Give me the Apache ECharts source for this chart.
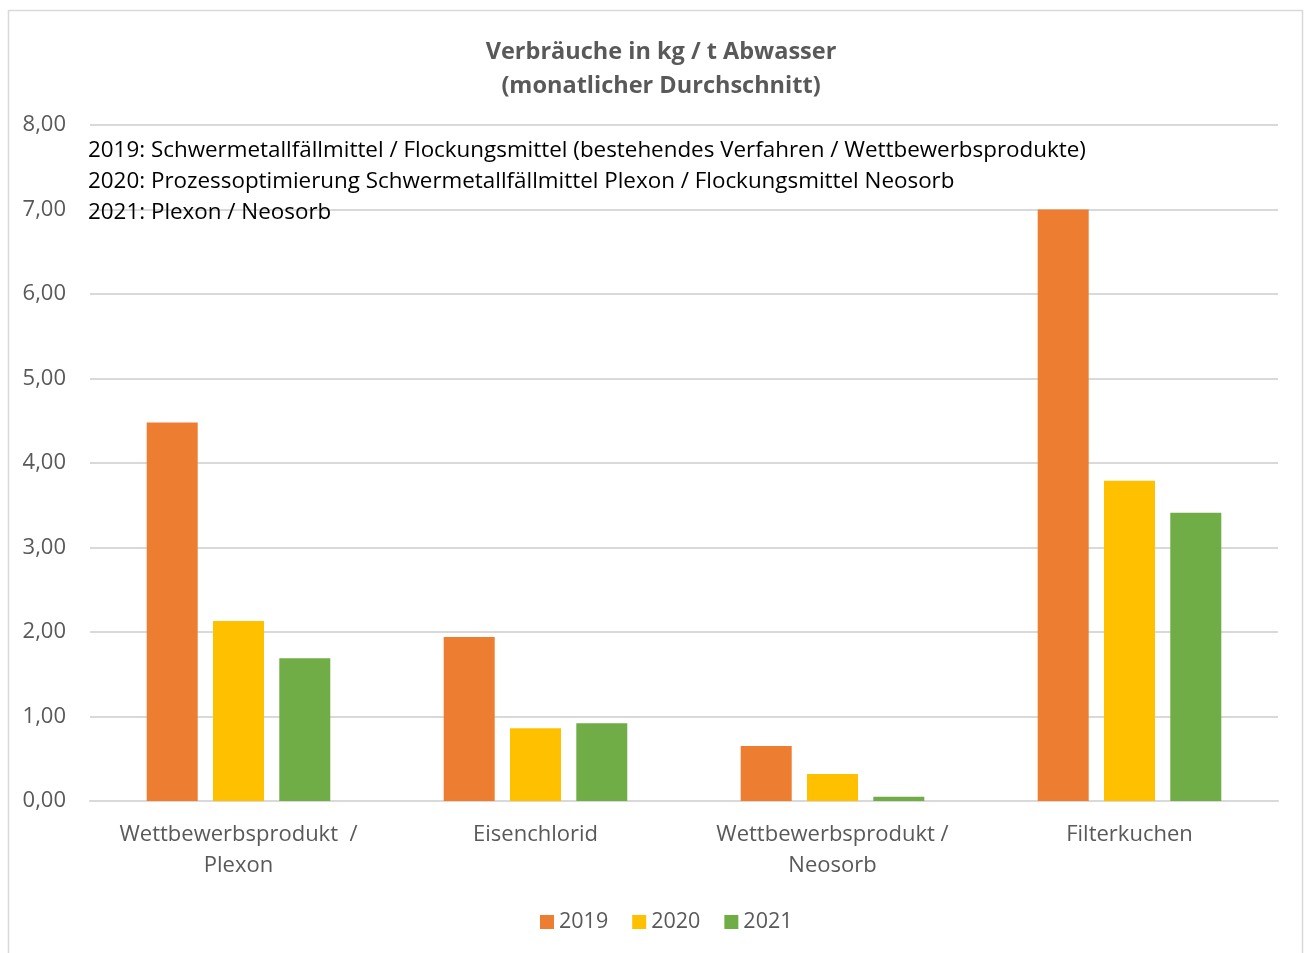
<!DOCTYPE html>
<html>
<head>
<meta charset="utf-8">
<script src="https://cdn.jsdelivr.net/npm/echarts@6/dist/echarts.min.js"></script>
<style>
  html, body { margin: 0; padding: 0; background: #fff; }
  #chart { width: 1304px; height: 953px; }
</style>
</head>
<body>
<div id="chart"></div>
<script>
// Daten
var categories = ['Wettbewerbsprodukt  /\nPlexon', 'Eisenchlorid', 'Wettbewerbsprodukt /\nNeosorb', 'Filterkuchen'];
var years = ['2019', '2020', '2021'];
var v2019 = [4.48, 1.94, 0.65, 7.00];
var v2020 = [2.13, 0.86, 0.32, 3.79];
var v2021 = [1.69, 0.92, 0.05, 3.41];
var yTicks = [0, 1, 2, 3, 4, 5, 6, 7, 8];
var notes = [
    '2019: Schwermetallfällmittel / Flockungsmittel (bestehendes Verfahren / Wettbewerbsprodukte)',
    '2020: Prozessoptimierung Schwermetallfällmittel Plexon / Flockungsmittel Neosorb',
    '2021: Plexon / Neosorb'
];
var colors = ['#ED7D31', '#FFC000', '#70AD47'];

var chart = echarts.init(document.getElementById('chart'));
var font = '"Open Sans", Lato, sans-serif';

var seriesData = [v2019, v2020, v2021];
var series = years.map(function (y, i) {
    return {
        name: y,
        type: 'bar',
        data: seriesData[i],
        barWidth: 51,
        barGap: '30%',
        silent: true,
        itemStyle: { color: colors[i] }
    };
});

var option = {
    animation: false,
    color: colors,
    textStyle: { fontFamily: font },
    title: {
        text: 'Verbräuche in kg / t Abwasser\n(monatlicher Durchschnitt)',
        left: 656,
        textAlign: 'center',
        top: 30,
        textStyle: { fontSize: 23.5, fontWeight: 'bold', color: '#595959', lineHeight: 34, fontFamily: font }
    },
    legend: {
        bottom: 15,
        left: 535,
        itemWidth: 14,
        itemHeight: 14,
        itemGap: 24,
        itemTextGap: 7,
        icon: 'rect',
        textStyle: { fontSize: 21.5, color: '#595959', fontFamily: font },
        data: years
    },
    grid: { left: 90, right: 26, top: 125, bottom: 152 },
    xAxis: {
        type: 'category',
        data: categories,
        axisTick: { show: false },
        axisLine: { lineStyle: { color: '#d9d9d9', width: 2 } },
        axisLabel: { interval: 0, fontSize: 22, color: '#595959', margin: 18, lineHeight: 31, fontFamily: font }
    },
    yAxis: {
        type: 'value',
        min: yTicks[0],
        max: yTicks[yTicks.length - 1],
        interval: 1,
        axisLabel: {
            fontSize: 22, color: '#595959', margin: 24, fontFamily: font,
            formatter: function (v) { return v.toFixed(2).replace('.', ','); }
        },
        splitLine: { lineStyle: { color: '#d9d9d9', width: 2 } }
    },
    graphic: [
        {
            type: 'rect',
            shape: { x: 8.5, y: 10.5, width: 1294, height: 960 },
            style: { fill: null, stroke: '#d9d9d9', lineWidth: 1.5 },
            silent: true
        },
        {
            type: 'text',
            left: 88,
            top: 135,
            style: {
                text: notes.join('\n'),
                fontSize: 22.4,
                lineHeight: 31,
                fill: '#000',
                fontFamily: font
            },
            z: 10
        }
    ],
    series: series
};

chart.setOption(option);
</script>
</body>
</html>
